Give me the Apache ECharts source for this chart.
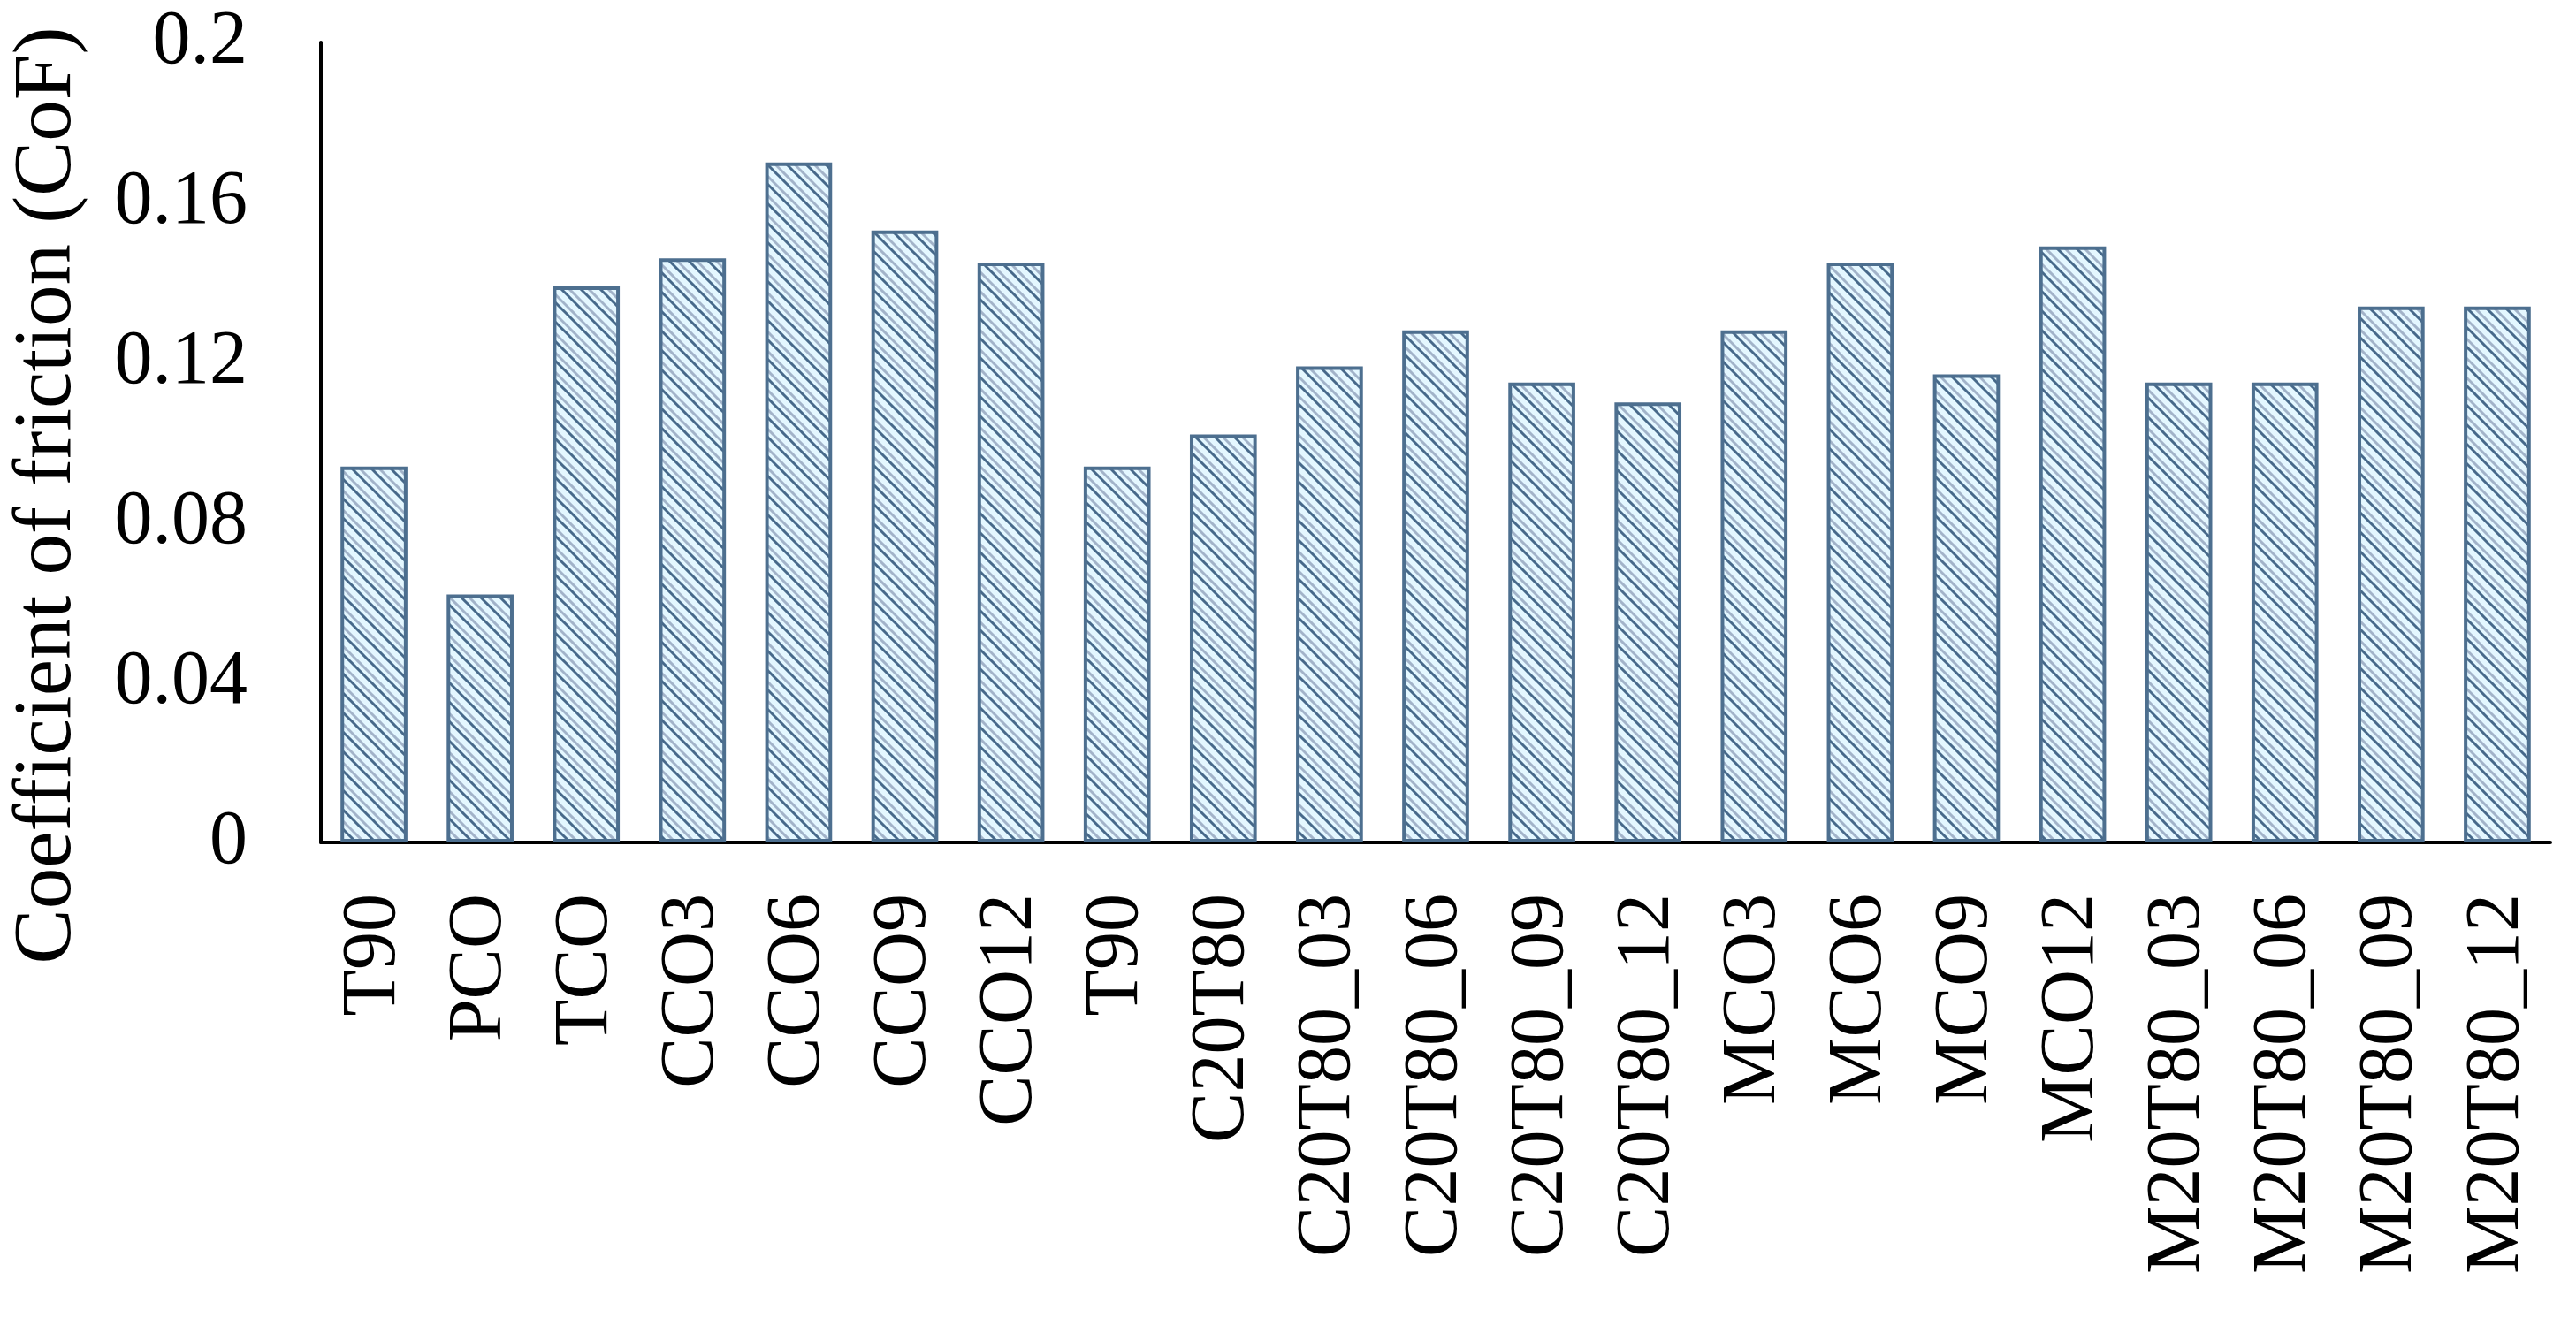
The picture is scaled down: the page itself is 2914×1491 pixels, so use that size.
<!DOCTYPE html>
<html>
<head>
<meta charset="utf-8">
<title>Coefficient of friction</title>
<script src="https://cdn.jsdelivr.net/npm/echarts@6/dist/echarts.min.js"></script>
<style>
  html, body { margin: 0; padding: 0; background: #fff; }
  #chart { width: 2914px; height: 1491px; }
</style>
</head>
<body>
<div id="chart"></div>
<script>
var categories = ['T90', 'PCO', 'TCO', 'CCO3', 'CCO6', 'CCO9', 'CCO12', 'T90', 'C20T80',
    'C20T80_03', 'C20T80_06', 'C20T80_09', 'C20T80_12', 'MCO3', 'MCO6', 'MCO9', 'MCO12',
    'M20T80_03', 'M20T80_06', 'M20T80_09', 'M20T80_12'];
var cofValues = [0.094, 0.062, 0.139, 0.146, 0.170, 0.153, 0.145, 0.094, 0.102,
    0.119, 0.128, 0.115, 0.110, 0.128, 0.145, 0.117, 0.149,
    0.115, 0.115, 0.134, 0.134];
var yTicks = [0, 0.04, 0.08, 0.12, 0.16, 0.2];

// hatch fill like the excel "downward diagonal" pattern
function makeHatch() {
    var size = 22;
    var cv = document.createElement('canvas');
    cv.width = size;
    cv.height = size;
    var ctx = cv.getContext('2d');
    ctx.fillStyle = '#e4f7ff';
    ctx.fillRect(0, 0, size, size);
    ctx.lineCap = 'square';
    [[0, '#47698a', 3], [9, '#a2b3c9', 3]].forEach(function (l) {
        ctx.strokeStyle = l[1];
        ctx.lineWidth = l[2];
        for (var k = -1; k <= 1; k++) {
            var off = k * size + l[0];
            ctx.beginPath();
            ctx.moveTo(off, 0);
            ctx.lineTo(off + size, size);
            ctx.stroke();
        }
    });
    return cv;
}

var font = 'Liberation Serif';
var chart = echarts.init(document.getElementById('chart'));
var option = {
    animation: false,
    backgroundColor: '#ffffff',
    grid: { left: 363, right: 29, top: 48, bottom: 538, containLabel: false },
    xAxis: {
        type: 'category',
        data: categories,
        axisLine: { lineStyle: { color: '#000', width: 4 } },
        axisTick: { show: false },
        axisLabel: {
            rotate: 90,
            interval: 0,
            margin: 58,
            color: '#000',
            fontFamily: font,
            fontSize: 86
        }
    },
    yAxis: {
        type: 'value',
        min: 0,
        max: 0.2,
        interval: 0.04,
        name: 'Coefficient of friction (CoF)',
        nameLocation: 'middle',
        nameGap: 262,
        nameTextStyle: {
            color: '#000',
            fontFamily: font,
            fontSize: 93,
            padding: [0, 120, 0, 0]
        },
        axisLine: { show: true, lineStyle: { color: '#000', width: 4 } },
        axisTick: { show: false },
        splitLine: { show: false },
        axisLabel: {
            margin: 83,
            color: '#000',
            fontFamily: font,
            fontSize: 86,
            formatter: function (v) {
                return yTicks.indexOf(+v.toFixed(2)) >= 0 ? String(+v.toFixed(2)) : '';
            }
        }
    },
    series: [{
        type: 'bar',
        data: cofValues,
        barCategoryGap: '37%',
        itemStyle: {
            color: { image: makeHatch(), repeat: 'repeat' },
            borderColor: '#4d6f8f',
            borderWidth: 4
        }
    }]
};
chart.setOption(option);
</script>
</body>
</html>
